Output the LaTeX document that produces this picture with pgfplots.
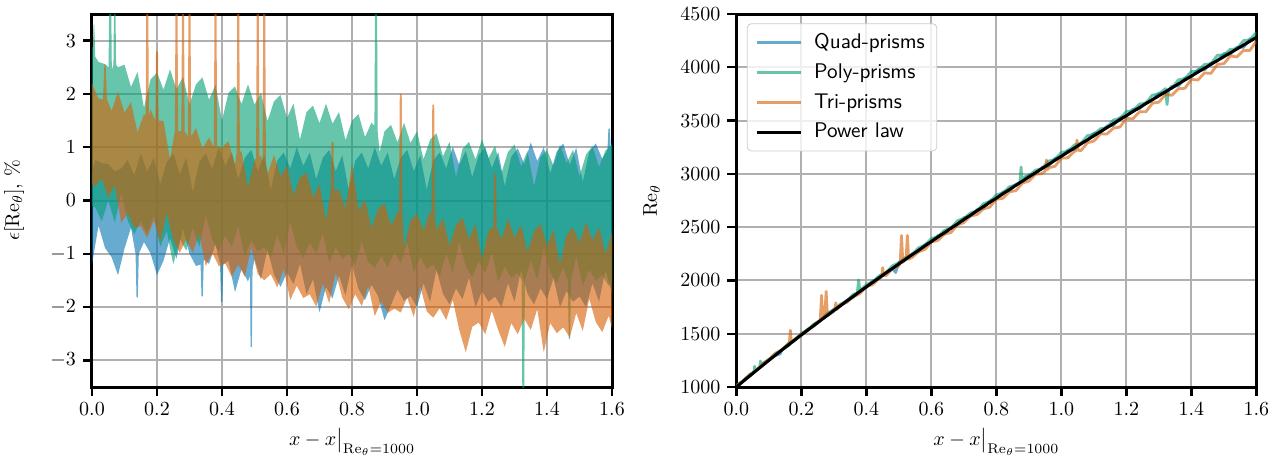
\documentclass[border=0pt]{standalone}
\usepackage{pgfplots}
\pgfplotsset{compat=1.18}
\usepackage{pgfplotstable}
\definecolor{cbblue}{HTML}{0173B2}
\definecolor{cbgreen}{HTML}{029E73}
\definecolor{cborange}{HTML}{D55E00}
\definecolor{gridgray}{RGB}{176,176,176}

% ---- left panel: upper and lower tips of each noisy series ----
\pgfplotstableread{
x y
0.00 0.50
0.01 0.76
0.03 0.70
0.05 0.68
0.07 0.55
0.09 0.60
0.11 0.76
0.13 0.47
0.15 0.88
0.17 0.54
0.19 0.80
0.21 0.31
0.23 0.72
0.25 0.88
0.27 0.49
0.29 0.80
0.31 0.16
0.33 0.72
0.35 0.88
0.37 0.59
0.39 1.00
0.41 0.65
0.43 0.90
0.45 0.40
0.47 0.80
0.49 0.95
0.51 0.55
0.53 0.85
0.55 0.20
0.57 0.75
0.59 0.90
0.61 0.60
0.63 1.00
0.65 0.65
0.67 0.90
0.69 0.40
0.71 0.80
0.73 0.95
0.75 0.55
0.77 0.85
0.79 0.20
0.81 0.75
0.83 0.90
0.85 0.60
0.87 1.00
0.89 0.65
0.91 0.90
0.93 0.40
0.95 0.80
0.97 0.95
0.99 0.55
1.01 0.85
1.03 0.20
1.05 0.75
1.07 0.90
1.09 0.60
1.11 1.01
1.13 0.67
1.15 0.93
1.17 0.44
1.19 0.85
1.21 1.00
1.23 0.61
1.25 0.91
1.27 0.27
1.29 0.82
1.31 0.98
1.33 0.68
1.35 1.09
1.37 0.74
1.39 1.00
1.41 0.51
1.43 0.92
1.45 1.07
1.47 0.67
1.49 0.99
1.51 0.35
1.53 0.91
1.55 1.07
1.57 0.78
1.586 0.95
1.589 1.35
1.593 1.35
1.596 0.95
1.60 1.10
}\qhi

\pgfplotstableread{
x y
0.00 -1.20
0.02 -0.47
0.04 -0.89
0.06 -1.06
0.08 -1.40
0.10 -0.90
0.12 -0.51
0.134 -1.00
0.137 -1.82
0.141 -1.82
0.144 -1.00
0.16 -0.78
0.18 -0.99
0.20 -1.40
0.22 -1.13
0.24 -0.71
0.26 -1.09
0.28 -0.52
0.30 -1.00
0.32 -1.23
0.334 -1.20
0.337 -1.80
0.341 -1.80
0.344 -1.10
0.36 -1.19
0.38 -0.82
0.394 -1.20
0.397 -1.90
0.401 -1.90
0.404 -1.20
0.42 -1.13
0.44 -1.72
0.46 -1.29
0.48 -1.52
0.486 -1.40
0.488 -2.75
0.492 -2.75
0.494 -1.30
0.50 -1.10
0.52 -1.48
0.54 -0.91
0.56 -1.39
0.58 -1.62
0.60 -1.35
0.62 -1.57
0.64 -1.19
0.66 -1.76
0.68 -1.48
0.70 -2.10
0.72 -1.62
0.74 -1.84
0.76 -1.41
0.78 -1.78
0.80 -1.20
0.82 -1.66
0.84 -1.87
0.86 -1.58
0.88 -1.79
0.90 -2.25
0.92 -1.96
0.94 -1.67
0.96 -1.88
0.98 -1.79
1.00 -2.00
1.02 -1.55
1.04 -1.90
1.06 -1.30
1.08 -1.75
1.10 -1.95
1.12 -1.65
1.14 -1.85
1.16 -1.45
1.18 -2.00
1.20 -1.70
1.22 -1.90
1.24 -1.80
1.26 -2.00
1.28 -1.55
1.30 -1.90
1.32 -1.30
1.34 -1.75
1.36 -1.95
1.38 -1.65
1.40 -1.85
1.42 -1.45
1.44 -2.00
1.46 -1.70
1.48 -1.90
1.50 -1.80
1.52 -2.00
1.54 -1.55
1.56 -1.90
1.58 -1.30
1.60 -1.75
}\qlo

\pgfplotstableread{
x y
0.000 2.85
0.003 2.90
0.005 3.30
0.007 3.30
0.010 2.70
0.020 2.60
0.040 2.56
0.051 2.50
0.053 3.80
0.059 3.80
0.061 2.45
0.066 2.55
0.068 3.80
0.072 3.80
0.074 2.55
0.080 2.50
0.10 2.55
0.12 2.13
0.14 2.41
0.16 1.74
0.18 2.27
0.20 2.40
0.22 2.08
0.24 2.46
0.26 2.09
0.28 2.32
0.30 1.80
0.32 2.18
0.34 2.31
0.36 1.89
0.38 2.17
0.40 1.50
0.42 2.02
0.44 2.14
0.46 1.81
0.48 2.18
0.50 1.80
0.52 2.02
0.54 1.49
0.56 1.86
0.58 1.98
0.60 1.55
0.62 1.82
0.64 1.14
0.66 1.66
0.68 1.78
0.70 1.45
0.72 1.82
0.74 1.44
0.76 1.66
0.78 1.13
0.80 1.50
0.82 1.62
0.84 1.19
0.86 1.46
0.869 1.40
0.871 3.80
0.877 3.80
0.879 1.30
0.885 0.90
0.90 1.30
0.92 1.42
0.94 1.09
0.96 1.46
0.98 1.08
1.00 1.30
1.02 0.77
1.04 1.14
1.06 1.26
1.08 0.83
1.10 1.10
1.12 0.44
1.14 0.97
1.16 1.10
1.18 0.77
1.20 1.15
1.22 0.79
1.24 1.03
1.26 0.52
1.28 0.91
1.30 1.05
1.32 0.64
1.34 0.93
1.36 0.27
1.38 0.81
1.40 0.95
1.42 0.65
1.44 1.05
1.46 0.70
1.48 0.95
1.50 0.45
1.52 0.86
1.54 1.02
1.56 0.63
1.58 0.94
1.60 1.05
}\ghi

\pgfplotstableread{
x y
0.00 -0.10
0.01 -0.13
0.03 -0.39
0.05 0.00
0.07 -0.41
0.09 0.13
0.11 -0.38
0.13 -0.63
0.15 -0.38
0.17 -0.63
0.19 -0.28
0.21 -0.86
0.23 -0.58
0.25 -1.20
0.27 -0.72
0.29 -0.94
0.31 -0.51
0.33 -0.87
0.35 -0.28
0.37 -0.74
0.39 -0.95
0.41 -0.66
0.43 -0.87
0.45 -0.48
0.47 -1.04
0.49 -0.75
0.51 -0.96
0.53 -0.87
0.55 -1.08
0.57 -0.64
0.59 -1.00
0.61 -0.41
0.63 -0.87
0.65 -1.08
0.67 -0.79
0.69 -1.00
0.71 -0.61
0.73 -1.17
0.75 -0.88
0.77 -1.09
0.79 -1.00
0.81 -1.21
0.83 -0.78
0.85 -1.15
0.87 -1.27
0.89 -1.04
0.91 -1.26
0.93 -0.97
0.95 -1.18
0.97 -0.79
0.99 -1.35
1.01 -1.06
1.03 -1.28
1.05 -1.20
1.07 -1.42
1.09 -0.99
1.11 -1.36
1.13 -0.77
1.15 -1.23
1.17 -1.44
1.19 -1.15
1.21 -1.36
1.23 -0.97
1.25 -1.53
1.27 -1.24
1.29 -1.45
1.31 -1.36
1.322 -1.50
1.324 -3.60
1.330 -3.60
1.332 -1.50
1.35 -1.13
1.37 -1.49
1.39 -0.90
1.41 -1.35
1.43 -1.55
1.45 -1.25
1.464 -1.50
1.467 -2.60
1.471 -2.60
1.474 -1.50
1.49 -1.05
1.51 -1.60
1.53 -1.30
1.55 -1.50
1.57 -1.40
1.59 -1.60
1.60 -1.50
}\glo

\pgfplotstableread{
x y
0.00 2.20
0.02 1.91
0.034 1.90
0.038 2.55
0.042 2.55
0.046 1.90
0.06 1.68
0.08 2.04
0.10 1.65
0.12 1.84
0.14 1.28
0.16 1.62
0.165 1.60
0.167 3.80
0.173 3.80
0.175 1.60
0.18 1.71
0.195 1.50
0.197 2.80
0.203 2.80
0.205 1.50
0.22 1.49
0.24 0.78
0.255 1.30
0.257 3.80
0.263 3.80
0.265 1.30
0.275 1.30
0.277 3.80
0.283 3.80
0.285 1.30
0.295 1.20
0.297 3.80
0.303 3.80
0.305 1.20
0.32 1.36
0.34 0.97
0.36 1.18
0.375 1.00
0.377 3.80
0.383 3.80
0.385 1.00
0.40 1.00
0.42 1.11
0.44 0.67
0.445 0.90
0.447 3.80
0.453 3.80
0.455 0.90
0.46 0.93
0.48 0.24
0.50 0.75
0.505 0.80
0.507 3.80
0.513 3.80
0.515 0.80
0.52 0.85
0.525 0.70
0.527 3.80
0.533 3.80
0.535 0.70
0.54 0.50
0.56 0.85
0.58 0.45
0.60 0.65
0.62 0.09
0.64 0.43
0.66 0.52
0.68 0.06
0.70 0.30
0.72 -0.38
0.735 0.20
0.737 1.10
0.743 1.10
0.745 0.20
0.76 0.20
0.78 -0.15
0.80 0.70
0.82 -0.19
0.84 0.02
0.86 -0.52
0.88 -0.16
0.90 -0.05
0.92 -0.48
0.94 -0.21
0.945 -0.20
0.947 2.00
0.953 2.00
0.955 -0.20
0.96 -0.89
0.98 -0.37
1.00 -0.25
1.02 -0.57
1.04 -0.19
1.045 -0.30
1.047 1.80
1.053 1.80
1.055 -0.30
1.06 -0.56
1.08 -0.33
1.10 -0.85
1.12 -0.46
1.14 -0.32
1.16 -0.73
1.18 -0.44
1.20 -1.10
1.22 -0.56
1.235 -0.50
1.237 0.50
1.243 0.50
1.245 -0.50
1.26 -0.73
1.28 -0.34
1.30 -0.70
1.32 -0.46
1.34 -0.97
1.36 -0.58
1.38 -0.44
1.40 -0.85
1.42 -0.55
1.44 -1.20
1.46 -0.65
1.48 -0.50
1.50 -0.80
1.52 -0.40
1.54 -0.75
1.56 -0.50
1.58 -1.00
1.60 -0.60
}\ohi

\pgfplotstableread{
x y
0.00 0.30
0.01 0.27
0.03 0.41
0.05 0.05
0.07 0.29
0.09 -0.42
0.11 -0.24
0.13 -0.51
0.15 -0.48
0.17 -0.70
0.19 -0.37
0.21 -0.78
0.23 -0.23
0.25 -0.73
0.27 -0.98
0.29 -0.73
0.31 -0.98
0.33 -0.63
0.35 -1.23
0.37 -0.98
0.39 -1.23
0.41 -1.18
0.43 -1.43
0.45 -1.20
0.47 -1.43
0.49 -0.88
0.51 -1.38
0.53 -1.50
0.55 -1.38
0.57 -1.63
0.59 -1.28
0.61 -1.87
0.63 -1.60
0.65 -1.83
0.67 -1.76
0.69 -1.99
0.71 -1.56
0.73 -1.93
0.75 -1.35
0.77 -1.82
0.79 -2.04
0.81 -1.76
0.83 -1.98
0.85 -1.60
0.87 -2.17
0.89 -1.89
0.91 -2.11
0.93 -2.03
0.95 -2.10
0.97 -1.82
0.99 -2.19
1.01 -1.61
1.03 -2.08
1.05 -2.20
1.07 -2.02
1.09 -2.24
1.11 -1.86
1.13 -2.43
1.15 -2.85
1.17 -2.37
1.19 -2.29
1.21 -2.51
1.23 -2.07
1.25 -2.43
1.27 -2.75
1.29 -2.30
1.31 -2.51
1.33 -2.22
1.35 -2.43
1.37 -2.04
1.39 -2.85
1.41 -2.30
1.43 -2.49
1.45 -2.38
1.47 -2.57
1.49 -2.11
1.51 -2.45
1.53 -1.84
1.55 -2.28
1.57 -2.47
1.59 -2.16
1.60 -2.40
}\olo

% closed bands: upper tips left to right, then lower tips right to left
\pgfplotstablesort[sort key=x, sort cmp=float >]{\qlorev}{\qlo}
\pgfplotstablesort[sort key=x, sort cmp=float >]{\glorev}{\glo}
\pgfplotstablesort[sort key=x, sort cmp=float >]{\olorev}{\olo}
\pgfplotstablevertcat{\qhi}{\qlorev}
\pgfplotstablevertcat{\ghi}{\glorev}
\pgfplotstablevertcat{\ohi}{\olorev}

% ---- right panel ----
\pgfplotstableread{
x re
0.00 998
0.02 1057
0.04 1098
0.06 1155
0.08 1200
0.10 1259
0.12 1295
0.135 1311
0.14 1352
0.16 1388
0.18 1449
0.20 1486
0.22 1544
0.24 1575
0.26 1632
0.28 1671
0.30 1730
0.32 1758
0.34 1815
0.36 1843
0.38 1905
0.40 1936
0.42 1996
0.44 2019
0.46 2076
0.48 2111
0.49 2075
0.50 2171
0.52 2191
0.54 2249
0.56 2271
0.58 2336
0.60 2361
0.62 2421
0.64 2438
0.66 2496
0.68 2527
0.70 2589
0.72 2604
0.74 2664
0.76 2680
0.78 2747
0.80 2767
0.82 2830
0.84 2842
0.86 2902
0.88 2929
0.90 2992
0.92 3001
0.94 3061
0.96 3073
0.98 3143
1.00 3160
1.02 3224
1.04 3230
1.06 3291
1.08 3316
1.10 3382
1.12 3386
1.14 3448
1.16 3454
1.18 3527
1.20 3540
1.22 3607
1.24 3608
1.26 3670
1.28 3692
1.30 3759
1.32 3759
1.34 3822
1.36 3825
1.38 3900
1.40 3910
1.42 3979
1.44 3975
1.46 4040
1.48 4060
1.50 4129
1.52 4124
1.54 4189
1.56 4187
1.58 4265
1.60 4271
}\requad

\pgfplotstableread{
x re
0.00 1015
0.02 1057
0.04 1116
0.054 1140
0.056 1195
0.058 1148
0.06 1158
0.072 1185
0.074 1244
0.076 1195
0.08 1220
0.10 1258
0.12 1312
0.14 1348
0.16 1410
0.18 1446
0.20 1505
0.22 1538
0.24 1595
0.26 1629
0.28 1693
0.30 1725
0.32 1777
0.34 1808
0.36 1871
0.372 1880
0.376 2005
0.380 1902
0.40 1961
0.42 1988
0.44 2045
0.46 2072
0.48 2138
0.50 2165
0.52 2216
0.54 2240
0.56 2305
0.58 2331
0.60 2392
0.62 2412
0.64 2470
0.66 2491
0.68 2560
0.70 2581
0.72 2633
0.74 2653
0.76 2720
0.78 2741
0.80 2804
0.82 2819
0.84 2879
0.86 2896
0.872 2920
0.876 3064
0.878 2935
0.88 2967
0.90 2983
0.92 3034
0.94 3049
0.96 3119
0.98 3136
1.00 3201
1.02 3211
1.04 3272
1.06 3284
1.08 3359
1.10 3371
1.12 3423
1.14 3434
1.16 3506
1.18 3520
1.20 3586
1.22 3592
1.24 3655
1.26 3663
1.28 3740
1.30 3748
1.32 3800
1.325 3650
1.33 3790
1.34 3807
1.36 3882
1.38 3893
1.40 3961
1.42 3963
1.44 4027
1.46 4032
1.48 4113
1.50 4116
1.52 4169
1.54 4172
1.56 4250
1.58 4257
1.60 4327
}\repoly

\pgfplotstableread{
x re
0.00 1014
0.02 1054
0.04 1114
0.06 1153
0.08 1217
0.10 1258
0.12 1317
0.14 1350
0.16 1405
0.163 1415
0.166 1532
0.169 1418
0.18 1438
0.20 1501
0.22 1530
0.24 1587
0.258 1620
0.262 1860
0.266 1640
0.272 1650
0.276 1897
0.280 1668
0.30 1711
0.303 1723
0.306 1790
0.309 1728
0.32 1770
0.34 1794
0.36 1848
0.38 1876
0.40 1942
0.42 1963
0.44 2021
0.447 2035
0.450 2119
0.453 2045
0.46 2043
0.48 2110
0.50 2137
0.504 2160
0.508 2422
0.512 2170
0.52 2198
0.522 2195
0.526 2422
0.530 2200
0.54 2214
0.56 2269
0.58 2291
0.60 2361
0.62 2376
0.64 2435
0.66 2450
0.68 2520
0.70 2543
0.72 2605
0.74 2617
0.76 2671
0.78 2689
0.80 2762
0.82 2771
0.84 2832
0.86 2842
0.88 2914
0.90 2932
0.92 2996
0.94 3002
0.950 3025
0.954 3130
0.958 3040
0.96 3057
0.98 3071
1.00 3147
1.02 3151
1.04 3212
1.044 3212
1.048 3317
1.052 3222
1.06 3217
1.08 3292
1.10 3308
1.12 3374
1.14 3374
1.16 3429
1.18 3439
1.20 3519
1.22 3517
1.24 3582
1.26 3582
1.28 3663
1.30 3673
1.32 3744
1.34 3738
1.36 3798
1.38 3803
1.40 3887
1.42 3880
1.44 3947
1.46 3943
1.48 4027
1.50 4034
1.52 4107
1.54 4097
1.56 4158
1.58 4159
1.60 4246
}\retri

\pgfplotstableread{
x re
0.00 1000
0.04 1102
0.08 1201
0.12 1299
0.16 1395
0.20 1489
0.24 1581
0.28 1673
0.32 1763
0.36 1852
0.40 1940
0.44 2027
0.48 2113
0.52 2198
0.56 2282
0.60 2366
0.64 2448
0.68 2530
0.72 2612
0.76 2693
0.80 2773
0.84 2853
0.88 2932
0.92 3010
0.96 3088
1.00 3166
1.04 3243
1.08 3319
1.12 3396
1.16 3471
1.20 3547
1.24 3622
1.28 3696
1.32 3770
1.36 3844
1.40 3918
1.44 3991
1.48 4064
1.52 4136
1.56 4208
1.60 4280
}\repower

\pgfplotsset{
  myaxis/.style={
    scale only axis, width=260pt, height=186.5pt,
    xmin=0, xmax=1.6,
    xtick={0,0.2,0.4,0.6,0.8,1.0,1.2,1.4,1.6},
    xticklabel style={/pgf/number format/.cd, fixed, fixed zerofill, precision=1},
    grid=major,
    major grid style={line width=1pt, draw=gridgray},
    axis line style={line width=1.5pt},
    tick align=outside,
    xtick pos=left, ytick pos=left,
    major tick length=4.5pt,
    every tick/.style={line width=1.2pt, black},
    xlabel={$x - x\big|_{\mathrm{Re}_\theta=1000}$},
    every axis x label/.style={at={(axis description cs:0.5,-0.147)}, anchor=center, inner sep=0pt},
    legend image code/.code={\draw[#1] (0pt,0pt) -- (22pt,0pt); \path (26pt,0pt);},
  },
  reline/.style={draw opacity=0.6, line width=1.4pt, line join=round, mark=none},
  band/.style={draw=none, fill opacity=0.6, mark=none},
}

\begin{document}
\begin{tikzpicture}
\useasboundingbox (-46pt,-35.15pt) rectangle (596pt,193.5pt);
\begin{axis}[myaxis,
  at={(0pt,0pt)}, anchor=south west,
  ymin=-3.5, ymax=3.5, ytick={-3,-2,-1,0,1,2,3},
  ylabel={$\epsilon[\mathrm{Re}_\theta]$, \%},
  every axis y label/.style={at={(axis description cs:-0.15,0.5)}, rotate=90, anchor=center},
]
\addplot[band, fill=cbblue] table[x=x, y=y] {\qhi};
\addplot[band, fill=cbgreen] table[x=x, y=y] {\ghi};
\addplot[band, fill=cborange] table[x=x, y=y] {\ohi};
\end{axis}
\begin{axis}[myaxis,
  at={(322.2pt,0pt)}, anchor=south west,
  ymin=1000, ymax=4500, ytick={1000,1500,2000,2500,3000,3500,4000,4500},
  scaled y ticks=false,
  yticklabel style={/pgf/number format/.cd, fixed, set thousands separator={}},
  ylabel={$\mathrm{Re}_\theta$},
  every axis y label/.style={at={(axis description cs:-0.163,0.5)}, rotate=90, anchor=center},
  legend cell align=left,
  legend style={at={(0.02,0.975)}, anchor=north west, draw=black!20, fill=white,
    fill opacity=0.8, text opacity=1, rounded corners=2pt,
    font=\sffamily\fontsize{10.6}{12.7}\selectfont,
    row sep=2pt, inner xsep=4pt, inner ysep=3pt},
]
\addplot[cbblue, reline] table[x=x, y=re] {\requad};
\addlegendentry{Quad-prisms}
\addplot[cbgreen, reline] table[x=x, y=re] {\repoly};
\addlegendentry{Poly-prisms}
\addplot[cborange, reline] table[x=x, y=re] {\retri};
\addlegendentry{Tri-prisms}
\addplot[black, line width=1.5pt, mark=none] table[x=x, y=re] {\repower};
\addlegendentry{Power law}
\end{axis}
\end{tikzpicture}
\end{document}
